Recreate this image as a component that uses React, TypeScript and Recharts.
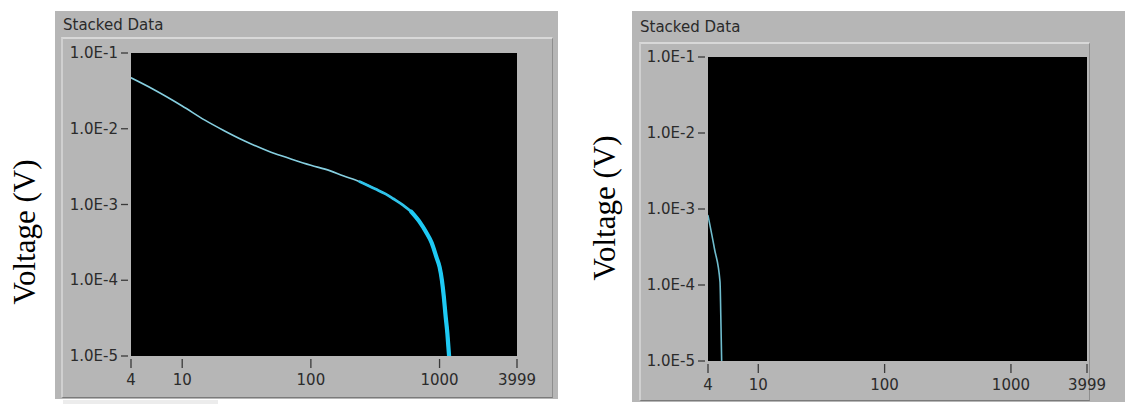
import React from "react";
import { LineChart, Line, XAxis, YAxis, CartesianGrid } from "recharts";

// ---- tick values ----
const xTicks = [4, 10, 100, 1000, 3999];
const yTicks = [1e-5, 1e-4, 1e-3, 1e-2, 1e-1];

// ---- left panel: full decay curve (time index vs voltage) ----
const leftTime = [4, 6, 10, 15, 21, 30, 49, 70, 100, 140, 178, 240, 318, 380, 437, 520, 604, 700, 781, 870, 947, 1000, 1043, 1080, 1112, 1150, 1186];
const leftVoltage = [0.047, 0.033, 0.02, 0.013, 0.0095, 0.007, 0.0049, 0.004, 0.0033, 0.0028, 0.0024, 0.002, 0.0016, 0.00138, 0.00119, 0.00098, 0.0008, 0.00059, 0.00044, 0.00031, 0.0002, 0.00015, 0.0001, 0.00006, 0.000035, 0.00002, 0.00001];

// noisy (stacked) band on the tail of the left curve
const bandTime = [240, 318, 380, 437, 520, 604, 700, 781, 870, 947, 1000, 1043, 1080, 1112, 1150, 1186];
const bandVoltage = [0.002, 0.0016, 0.00138, 0.00119, 0.00098, 0.0008, 0.00059, 0.00044, 0.00031, 0.0002, 0.00015, 0.0001, 0.00006, 0.000035, 0.00002, 0.00001];

const thickTime = [604, 700, 781, 870, 947, 1000, 1043, 1080, 1112, 1150, 1186];
const thickVoltage = [0.0008, 0.00059, 0.00044, 0.00031, 0.0002, 0.00015, 0.0001, 0.00006, 0.000035, 0.00002, 0.00001];

// ---- right panel ----
const rightTime = [4, 4.5, 4.98, 5.05, 5.13];
const rightVoltage = [0.00082, 0.0003, 0.00011, 0.00004, 0.00001];

const toRows = (xs: number[], ys: number[]) => xs.map((t, i) => ({ t, v: ys[i] }));

const fmtY = (v: number) => v.toExponential(1).toUpperCase();

const TICK_FONT = "'DejaVu Sans', Tahoma, sans-serif";

const YTick = (props: any) => {
  const { x, y, payload } = props;
  return (
    <g>
      <line x1={x - 10} x2={x - 3} y1={y} y2={y} stroke="#3a3a3a" strokeWidth={1.3} />
      <text x={x - 13} y={y} textAnchor="end" dominantBaseline="central" fontFamily={TICK_FONT} fontSize={15} fill="#2b2b2b">
        {fmtY(payload.value)}
      </text>
    </g>
  );
};

const XTick = (props: any) => {
  const { x, y, payload } = props;
  return (
    <g>
      <line x1={x} x2={x} y1={y + 3} y2={y + 12} stroke="#3a3a3a" strokeWidth={1.3} />
      <text x={x} y={y + 24} textAnchor="middle" dominantBaseline="central" fontFamily={TICK_FONT} fontSize={15} fill="#2b2b2b">
        {String(payload.value)}
      </text>
    </g>
  );
};

type LineSpec = { rows: { t: number; v: number }[]; color: string; width: number; curve: "monotone" | "linear" };

type PanelProps = {
  left: number;
  top: number;
  width: number;
  height: number;
  innerTop: number;
  innerInset: number;
  innerRight: number;
  margin: { top: number; right: number; bottom: number; left: number };
  lines: LineSpec[];
  titleBaseline: number;
};

const Panel = (p: PanelProps) => {
  return (
    <div style={{ position: "absolute", left: p.left, top: p.top, width: p.width, height: p.height, background: "#b6b6b6" }}>
      <div
        style={{
          position: "absolute",
          left: p.innerInset,
          top: p.innerTop,
          width: p.width - p.innerInset - p.innerRight,
          height: p.height - p.innerTop - 1,
          borderTop: "2px solid #d8d8d8",
          borderLeft: "2px solid #d0d0d0",
          borderRight: "1px solid #8e8e8e",
          borderBottom: "1px solid #7a7a7a",
          boxSizing: "border-box",
        }}
      />
      <div
        style={{
          position: "absolute",
          left: 8,
          top: p.titleBaseline - 16,
          fontFamily: TICK_FONT,
          fontSize: 15,
          color: "#2a2a2a",
          lineHeight: "19px",
          whiteSpace: "nowrap",
        }}
      >
        Stacked Data
      </div>
      <div style={{ position: "absolute", left: 0, top: 0 }}>
        <LineChart width={p.width} height={p.height} margin={p.margin}>
          <CartesianGrid horizontal={false} vertical={false} fill="#000000" stroke="none" />
          <XAxis
            type="number"
            dataKey="t"
            scale="log"
            domain={[4, 3999]}
            ticks={xTicks}
            allowDataOverflow
            axisLine={false}
            tickLine={false}
            tickSize={0}
            tickMargin={0}
            height={30}
            interval={0}
            tick={<XTick />}
          />
          <YAxis
            type="number"
            dataKey="v"
            scale="log"
            domain={[1e-5, 1e-1]}
            ticks={yTicks}
            allowDataOverflow
            axisLine={false}
            tickLine={false}
            tickSize={0}
            tickMargin={0}
            width={60}
            interval={0}
            tick={<YTick />}
          />
          {p.lines.map((l, i) => (
            <Line
              key={i}
              data={l.rows}
              dataKey="v"
              type={l.curve}
              stroke={l.color}
              strokeWidth={l.width}
              dot={false}
              isAnimationActive={false}
              strokeLinejoin="round"
              strokeLinecap="round"
            />
          ))}
        </LineChart>
      </div>
    </div>
  );
};

export default function App() {
  return (
    <div style={{ position: "absolute", left: 0, top: 0, width: 1125, height: 404, background: "#ffffff", overflow: "hidden" }}>
      <div style={{ position: "absolute", left: 63, top: 400, width: 155, height: 4, background: "#ececec" }} />
      <Panel
        left={55}
        top={11}
        width={503}
        height={388}
        innerTop={26}
        innerInset={6}
        innerRight={5}
        titleBaseline={21}
        margin={{ top: 42, right: 41, bottom: 13, left: 16 }}
        lines={[
          { rows: toRows(leftTime, leftVoltage), color: "#86cfe0", width: 1.6, curve: "monotone" },
          { rows: toRows(bandTime, bandVoltage), color: "#2fc3ea", width: 2.8, curve: "monotone" },
          { rows: toRows(thickTime, thickVoltage), color: "#1ec9f3", width: 4.2, curve: "monotone" },
        ]}
      />
      <Panel
        left={632}
        top={11}
        width={493}
        height={391}
        innerTop={31}
        innerInset={7}
        innerRight={35}
        titleBaseline={23}
        margin={{ top: 46, right: 38, bottom: 11, left: 16 }}
        lines={[{ rows: toRows(rightTime, rightVoltage), color: "#6fbccd", width: 1.6, curve: "monotone" }]}
      />
      <svg width={1125} height={404} style={{ position: "absolute", left: 0, top: 0, pointerEvents: "none" }}>
        <text
          x={24}
          y={232}
          transform="rotate(-90 24 232)"
          textAnchor="middle"
          dominantBaseline="central"
          fontFamily="'Liberation Serif', 'Times New Roman', serif"
          fontSize={31}
          fill="#000"
        >
          Voltage (V)
        </text>
        <text
          x={604}
          y={208}
          transform="rotate(-90 604 208)"
          textAnchor="middle"
          dominantBaseline="central"
          fontFamily="'Liberation Serif', 'Times New Roman', serif"
          fontSize={31}
          fill="#000"
        >
          Voltage (V)
        </text>
      </svg>
    </div>
  );
}
